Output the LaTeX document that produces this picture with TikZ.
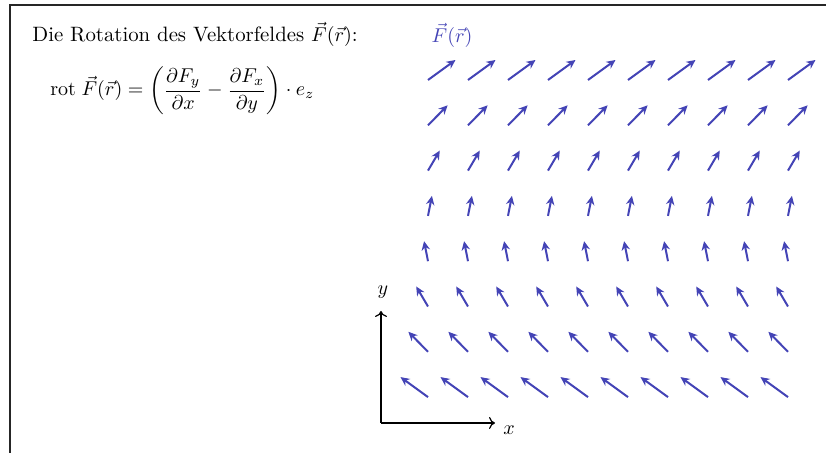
\documentclass[tikz,border=0pt]{standalone}
\usepackage{amsmath}
\usetikzlibrary{arrows.meta}
\definecolor{fieldblue}{RGB}{68,68,182}
\begin{document}
\begin{tikzpicture}[x=0.5pt,y=-0.5pt,
  font=\fontsize{10.4}{12}\selectfont,
  frame/.style={line width=1pt,draw=black!85},
  fieldarrow/.style={fieldblue,line width=1pt,-{Stealth[length=4.5pt,width=4.2pt]}},
  axisarrow/.style={black,line width=0.6pt,-{To[length=3pt,width=6pt]}},
  lbl/.style={inner sep=0pt}]
\useasboundingbox (0,0) rectangle (826,453);
% frame (cropped)
\draw[frame] (10,453) -- (10,5) -- (826,5);
% texts
\node[lbl,anchor=base west] (title) at (32,42) {Die Rotation des Vektorfeldes $\vec{F}(\vec{r})$:};
\node[lbl,anchor=west] (eq) at (50,91) {$\displaystyle \mathrm{rot}\;\vec{F}(\vec{r}) = \left(\frac{\partial F_y}{\partial x} - \frac{\partial F_x}{\partial y}\right)\cdot e_z$};
\node[lbl,text=fieldblue] (Flabel) at (452,35) {$\vec{F}(\vec{r})$};
% vector field: 10 columns, 8 rows
\foreach \j in {0,...,7}{
  \foreach \i in {0,...,9}{
    \pgfmathsetmacro{\tx}{428+40*\i}
    \pgfmathsetmacro{\ty}{80+45.3*\j}
    \pgfmathsetmacro{\dx}{27.5-7.857*\j}
    \coordinate (t\i\j) at (\tx,\ty);
    \coordinate (h\i\j) at (\tx+\dx,\ty-20);
    \draw[fieldarrow] (t\i\j) -- (h\i\j);
  }
}
% axes
\coordinate (O) at (381,423);
\coordinate (Ytip) at (381,311);
\coordinate (Xtip) at (495,423);
\draw[axisarrow] (O) -- (Ytip);
\draw[axisarrow] (O) -- (Xtip);
\node[lbl] (ylab) at (383,292) {$y$};
\node[lbl] (xlab) at (509,430) {$x$};
\end{tikzpicture}
\end{document}
